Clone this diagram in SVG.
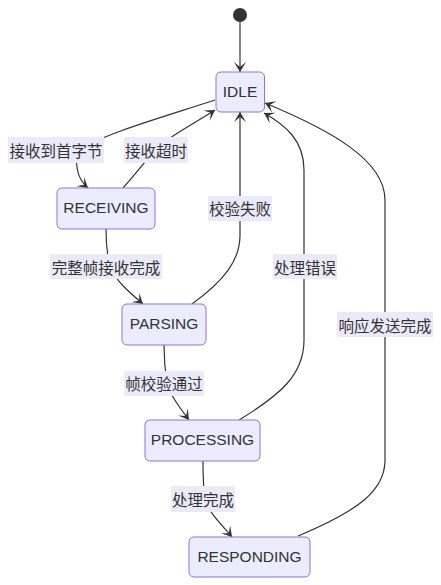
<svg xmlns="http://www.w3.org/2000/svg" width="441" height="585" viewBox="0 0 441 585">
<style>
.node rect{fill:#ECECFF;stroke:#9370DB;stroke-width:1}
.node text{font-family:"Liberation Sans","Noto Sans CJK SC",sans-serif;font-size:15.5px;fill:#333;text-anchor:middle;dominant-baseline:central}
.edge path{fill:none;stroke:#333;stroke-width:1.2}
.lbl rect{fill:#EAEAF9}
.lbl text{font-family:"Noto Sans CJK SC","Liberation Sans",sans-serif;font-size:15.5px;fill:#333;text-anchor:middle;dominant-baseline:central}
</style>
<defs>
<marker id="arr" viewBox="0 0 20 14" refX="19" refY="7" markerWidth="20" markerHeight="14" markerUnits="userSpaceOnUse" orient="auto">
<path d="M19,7 L9,13 L14,7 L9,1 Z" fill="#333"/>
</marker>
</defs>
<g id="edges" class="edge">
<path d="M240,22 L240,72" marker-end="url(#arr)"/>
<path d="M215,100 C160,118 100,135 80,150 C74,160 76,178 88,188" marker-end="url(#arr)"/>
<path d="M123,188 C135,175 150,155 160,145 C180,130 200,120 215,110" marker-end="url(#arr)"/>
<path d="M106,229 C106,245 107,255 110,267 C115,280 130,293 143,304" marker-end="url(#arr)"/>
<path d="M192,304 C225,280 240,260 240,235 L240,112" marker-end="url(#arr)"/>
<path d="M239,420 C280,395 304,375 304,340 L304,170 C304,140 285,125 264,113" marker-end="url(#arr)"/>
<path d="M298,536 C360,510 385,490 385,460 L385,200 C385,160 330,130 265,103" marker-end="url(#arr)"/>
<path d="M164,345 C164,360 165,370 167,383 C170,395 180,408 189,420" marker-end="url(#arr)"/>
<path d="M203,461 C203,475 203,485 205,499 C208,512 222,525 232,537" marker-end="url(#arr)"/>
</g>
<g id="labels">
<g class="lbl"><rect x="8" y="137" width="96" height="26"/><text x="56" y="150">接收到首字节</text></g>
<g class="lbl"><rect x="124" y="137" width="64" height="26"/><text x="156" y="150">接收超时</text></g>
<g class="lbl"><rect x="208" y="196" width="64" height="25"/><text x="240" y="208">校验失败</text></g>
<g class="lbl"><rect x="50" y="254" width="112" height="25"/><text x="106" y="267">完整帧接收完成</text></g>
<g class="lbl"><rect x="273" y="254" width="64" height="25"/><text x="305" y="267">处理错误</text></g>
<g class="lbl"><rect x="337" y="312" width="96" height="25"/><text x="385" y="325">响应发送完成</text></g>
<g class="lbl"><rect x="124" y="371" width="80" height="25"/><text x="164" y="383">帧校验通过</text></g>
<g class="lbl"><rect x="171" y="486" width="64" height="26"/><text x="203" y="499">处理完成</text></g>
</g>
<g id="start"><circle cx="240" cy="15" r="7" fill="#333"/></g>
<g id="IDLE" class="node"><rect x="216" y="72" width="48.5" height="40" rx="5"/><text x="240" y="91">IDLE</text></g>
<g id="RECEIVING" class="node"><rect x="57" y="188" width="98" height="41" rx="5"/><text x="106" y="207.5">RECEIVING</text></g>
<g id="PARSING" class="node"><rect x="122" y="304" width="84" height="41" rx="5"/><text x="164" y="323.5">PARSING</text></g>
<g id="PROCESSING" class="node"><rect x="145" y="420" width="115" height="41" rx="5"/><text x="202.5" y="439.5">PROCESSING</text></g>
<g id="RESPONDING" class="node"><rect x="189" y="537" width="121" height="40" rx="5"/><text x="249.5" y="556">RESPONDING</text></g>
</svg>
